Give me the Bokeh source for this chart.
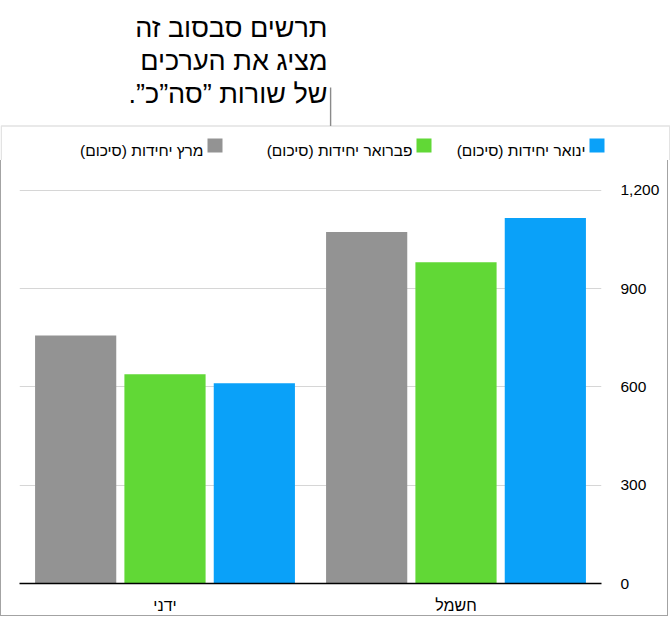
from bokeh.plotting import figure
from bokeh.layouts import column
from bokeh.models import (FactorRange, Range1d, Label, BoxAnnotation, ColumnDataSource,
                          NumeralTickFormatter, FixedTicker)
from bokeh.transform import dodge
from bokeh.embed import file_html
from bokeh.resources import INLINE

RLM = "\u200f"

categories = ["ידני", "חשמל"]
series_names = ["ינואר יחידות (סיכום)", "פברואר יחידות (סיכום)", "מרץ יחידות (סיכום)"]
jan_values = [611, 1116]
feb_values = [639, 981]
mar_values = [757, 1073]
y_ticks = [0, 300, 600, 900, 1200]
callout_lines = ["תרשים סבסוב זה", "מציג את הערכים", "של שורות ”סה”כ”."]

series_values = [jan_values, feb_values, mar_values]
colors = ["#0AA1F9", "#61D836", "#939393"]
offsets = [0.307, 0.0, -0.307]

FONT = "Liberation Sans"
BORDER = "#A3A3A3"
W = 670
TOP_H = 160
S = dict(left_units="screen", right_units="screen", top_units="screen", bottom_units="screen")

# ---------- top part: callout + legend ----------
top = figure(width=W, height=TOP_H, x_range=Range1d(0, W), y_range=Range1d(0, TOP_H),
             x_axis_type=None, y_axis_type=None, output_backend="svg",
             toolbar_location=None, min_border=0, frame_align=False)
top.outline_line_color = None
top.xgrid.visible = False
top.ygrid.visible = False
top.background_fill_color = "white"
top.border_fill_color = "white"

def sy(y):
    return TOP_H - y

for i, line in enumerate(callout_lines):
    top.add_layout(Label(x=327, y=sy(27 + 33 * i), x_units="screen", y_units="screen",
                         text=line + RLM, text_align="right", text_baseline="alphabetic",
                         text_font=FONT, text_font_size="27px", text_color="#000000"))

top.add_layout(BoxAnnotation(left=329.4, right=330.8, top=sy(87), bottom=sy(125.5), **S,
                             fill_color="#8A8A8A", fill_alpha=1, line_color=None))
top.add_layout(BoxAnnotation(left=0.75, right=669.25, top=sy(125.5), bottom=-10, **S,
                             fill_alpha=0, line_color=BORDER, line_width=1.5))

legend_square_left = [589, 416, 207]
for name, col, sl in zip(series_names, colors, legend_square_left):
    top.add_layout(BoxAnnotation(left=sl, right=sl + 15, top=sy(138), bottom=sy(152), **S,
                                 fill_color=col, fill_alpha=1, line_color=None))
    top.add_layout(Label(x=sl - 4, y=sy(150), x_units="screen", y_units="screen",
                         text=name + RLM, text_align="right", text_baseline="alphabetic",
                         text_font=FONT, text_font_size="15.5px", text_color="#000000"))

# ---------- chart ----------
p = figure(width=668, height=456, x_range=FactorRange(factors=categories, range_padding=0),
           y_range=Range1d(0, 1209), output_backend="svg", toolbar_location=None,
           y_axis_location="right", min_border_left=18, min_border_right=68,
           min_border_top=27, min_border_bottom=31, frame_align=False,
           styles={"border-left": f"1px solid {BORDER}", "border-right": f"1px solid {BORDER}",
                   "border-bottom": f"1px solid {BORDER}"})

for vals, col, off in zip(series_values, colors, offsets):
    src = ColumnDataSource(dict(cat=categories, value=vals))
    p.vbar(x=dodge("cat", off, range=p.x_range), top="value", width=0.279,
           source=src, fill_color=col, line_color=None)

p.outline_line_color = None
p.background_fill_color = "white"
p.border_fill_color = "white"
p.xgrid.grid_line_color = None
p.ygrid.grid_line_color = "#D6D6D6"
p.ygrid.grid_line_width = 1
p.ygrid.ticker = FixedTicker(ticks=y_ticks)

yax = p.yaxis[0]
yax.ticker = FixedTicker(ticks=y_ticks)
yax.formatter = NumeralTickFormatter(format="0,0")
yax.axis_line_color = None
yax.major_tick_line_color = None
yax.minor_tick_line_color = None
yax.major_label_standoff = 13
yax.major_label_text_font = FONT
yax.major_label_text_font_size = "15.5px"
yax.major_label_text_color = "#000000"

xax = p.xaxis[0]
xax.axis_line_color = "#000000"
xax.axis_line_width = 1.5
xax.major_tick_line_color = None
xax.minor_tick_line_color = None
xax.major_label_standoff = 7
xax.major_label_text_font = FONT
xax.major_label_text_font_size = "16px"
xax.major_label_text_color = "#000000"

layout = column(top, p, spacing=0)
open("out.html", "w").write(file_html(layout, INLINE))
